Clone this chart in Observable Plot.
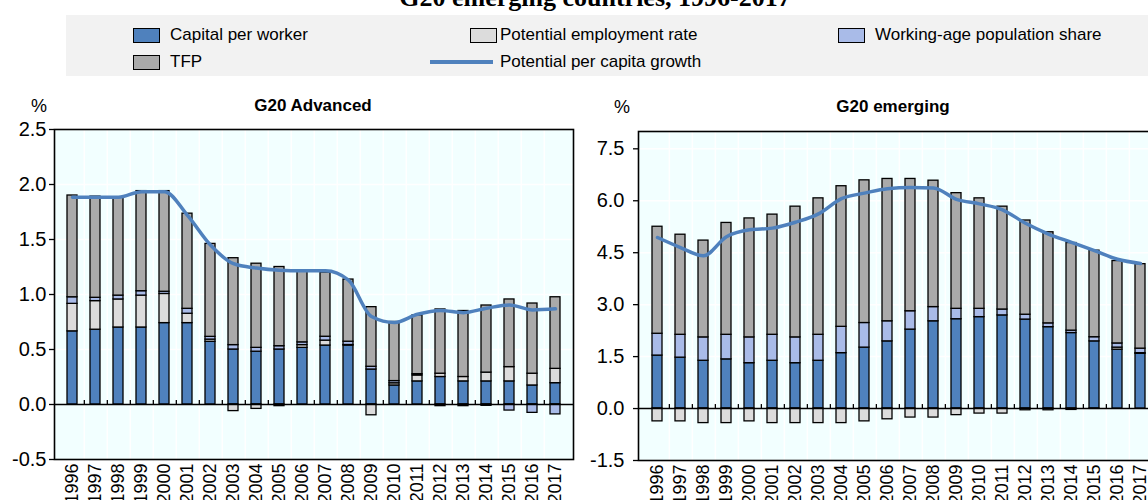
<!DOCTYPE html>
<html>
<head>
<meta charset="utf-8">
<script src="https://cdn.jsdelivr.net/npm/d3@7"></script>
<script src="https://cdn.jsdelivr.net/npm/@observablehq/plot@0.6"></script>
<style>
  html, body { margin: 0; padding: 0; background: white; overflow: hidden; }
  #root { position: relative; width: 1148px; height: 500px; overflow: hidden; font-family: "Liberation Sans", Arial, sans-serif; color: black; }
  .abs { position: absolute; white-space: nowrap; }
  .sw { position: absolute; width: 25px; height: 13px; border: 1px solid black; }
  .lt { position: absolute; font-size: 17px; line-height: 20px; white-space: nowrap; }
  #left svg, #right svg { max-width: none !important; display: block; }
</style>
</head>
<body>
<div id="root">
  <div class="abs" style="left:0;width:1190px;top:-15px;text-align:center;font-family:'Liberation Serif','Times New Roman',serif;font-weight:bold;font-size:26px;line-height:26px;">G20 emerging countries, 1996-2017</div>
  <div id="legend" class="abs" style="left:66px;top:15px;width:1100px;height:61px;background:#f2f2f2;"></div>
  <div id="left" class="abs" style="left:0;top:90px;width:590px;height:410px;"></div>
  <div id="right" class="abs" style="left:590px;top:90px;width:580px;height:410px;"></div>
  <div class="abs" style="left:31px;top:96px;font-size:18px;line-height:20px;">%</div>
  <div class="abs" style="left:614px;top:97px;font-size:18px;line-height:20px;">%</div>
  <div class="abs" style="left:213px;width:200px;top:96px;text-align:center;font-weight:bold;font-size:17px;line-height:20px;">G20 Advanced</div>
  <div class="abs" style="left:793px;width:200px;top:97px;text-align:center;font-weight:bold;font-size:17px;line-height:20px;">G20 emerging</div>
</div>
<script>
// ---------- data ----------
const years = ["1996","1997","1998","1999","2000","2001","2002","2003","2004","2005","2006",
               "2007","2008","2009","2010","2011","2012","2013","2014","2015","2016","2017"];

const components = ["Capital per worker", "Potential employment rate", "Working-age population share", "TFP"];
const componentColors = ["#4f81bd", "#dcdcdc", "#a9bbe8", "#aaaaaa"];
const lineLabel = "Potential per capita growth";
const lineColor = "#4f81bd";

// G20 Advanced
const advCapital    = [0.665,0.68,0.70,0.70,0.74,0.74,0.57,0.50,0.48,0.50,0.515,0.536,0.536,0.318,0.173,0.21,0.25,0.21,0.21,0.21,0.173,0.194];
const advEmployment = [0.25,0.26,0.255,0.29,0.265,0.085,0.02,-0.06,-0.04,-0.015,0.025,0.045,0.005,-0.098,0.02,0.054,0.03,0.04,0.08,0.13,0.107,0.13];
const advWorkingAge = [0.06,0.03,0.035,0.04,0.02,0.045,0.025,0.04,0.035,0.03,0.025,0.035,0.03,0.025,0.02,0.012,-0.015,-0.015,-0.012,-0.055,-0.076,-0.09];
const advTFP        = [0.925,0.92,0.89,0.91,0.915,0.865,0.845,0.79,0.765,0.72,0.645,0.584,0.565,0.542,0.537,0.534,0.584,0.60,0.61,0.615,0.638,0.651];
const advGrowth     = [1.885,1.885,1.885,1.935,1.935,1.72,1.45,1.28,1.24,1.22,1.215,1.215,1.13,0.80,0.745,0.82,0.855,0.835,0.875,0.905,0.86,0.87];

// G20 emerging
const emeCapital    = [1.53,1.47,1.38,1.42,1.31,1.38,1.31,1.38,1.60,1.76,1.94,2.28,2.52,2.58,2.64,2.69,2.57,2.35,2.18,1.94,1.70,1.58];
const emeEmployment = [-0.37,-0.37,-0.42,-0.42,-0.37,-0.42,-0.42,-0.42,-0.42,-0.37,-0.31,-0.26,-0.26,-0.19,-0.145,-0.145,-0.05,-0.05,-0.04,-0.01,0.06,0.02];
const emeWorkingAge = [0.63,0.66,0.675,0.71,0.745,0.75,0.745,0.75,0.76,0.71,0.58,0.53,0.41,0.30,0.24,0.17,0.14,0.11,0.07,0.12,0.12,0.13];
const emeTFP        = [3.09,2.89,2.795,3.23,3.435,3.47,3.775,3.94,4.06,4.12,4.11,3.82,3.65,3.34,3.19,2.97,2.72,2.63,2.53,2.50,2.38,2.44];
const emeGrowth     = [4.94,4.65,4.41,4.96,5.16,5.21,5.38,5.62,6.06,6.22,6.35,6.38,6.37,6.04,5.91,5.74,5.35,5.04,4.80,4.56,4.31,4.19];

const advTicks = [-0.5,0,0.5,1.0,1.5,2.0,2.5];
const emeTicks = [-1.5,0,1.5,3.0,4.5,6.0,7.5];

// ---------- legend ----------
const legend = document.getElementById("root");
function addSwatch(x, y, color) {
  const d = document.createElement("div"); d.className = "sw";
  d.style.left = x + "px"; d.style.top = y + "px"; d.style.background = color; legend.appendChild(d);
}
function addText(x, y, t) {
  const d = document.createElement("div"); d.className = "lt";
  d.style.left = x + "px"; d.style.top = y + "px"; d.textContent = t; legend.appendChild(d);
}
addSwatch(133, 28, componentColors[0]); addText(170, 25, components[0]);
addSwatch(470, 28, componentColors[1]); addText(500, 25, components[1]);
addSwatch(838, 28, componentColors[2]); addText(875, 25, components[2]);
addSwatch(133, 55, componentColors[3]); addText(170, 52, components[3]);
{ const d = document.createElement("div"); d.className = "abs";
  d.style.cssText = `left:430px;top:60px;width:63px;height:4px;background:${lineColor};`; legend.appendChild(d); }
addText(500, 52, lineLabel);

// ---------- panels ----------
const PI = 0.58, PO = 0.265;
function panel({cap, emp, wa, tfp, growth, domain, ticks, width, height, ml, mr, mt, mb, tickPad}) {
  const series = [cap, emp, wa, tfp];
  const rows = [];
  components.forEach((c, k) => years.forEach((y, i) => rows.push({year: y, component: c, value: series[k][i]})));
  const line = years.map((y, i) => ({year: y, value: growth[i]}));
  const step = (width - ml - mr) / (years.length - PI + 2 * PO);
  const unitPerPx = (domain[1] - domain[0]) / (height - mt - mb);
  return Plot.plot({
    width, height, marginLeft: ml, marginRight: mr, marginTop: mt, marginBottom: mb,
    style: {fontFamily: "'Liberation Sans', Arial, sans-serif", fontSize: "20px", color: "black", background: "transparent", overflow: "visible"},
    x: {type: "band", domain: years, paddingInner: PI, paddingOuter: PO, label: null},
    y: {domain, label: null},
    color: {domain: components, range: componentColors},
    marks: [
      Plot.frame({fill: "#f2ffff", stroke: null}),
      Plot.gridY(ticks, {stroke: "white", strokeOpacity: 1, strokeWidth: 1.5}),
      Plot.ruleX(years.slice(0, -1), {x: d => d, dx: step / 2, stroke: "white", strokeOpacity: 1, strokeWidth: 1.5}),
      Plot.barY(rows, {x: "year", y: "value", fill: "component", stroke: "black", strokeWidth: 1.3}),
      Plot.ruleY([0], {stroke: "black", strokeWidth: 1.5}),
      Plot.ruleX(years.slice(0, -1), {x: d => d, dx: step / 2, y1: 0, y2: 4 * unitPerPx, stroke: "black", strokeWidth: 1.3}),
      Plot.lineY(line, {x: "year", y: "value", stroke: lineColor, strokeWidth: 3.5, curve: "monotone-x"}),
      Plot.frame({stroke: "black", strokeWidth: 1.6}),
      Plot.axisY(ticks, {tickFormat: d => d.toFixed(1), tickSize: 5, tickPadding: tickPad, fontSize: 20, label: null, strokeWidth: 1.3}),
      Plot.axisX({tickRotate: -90, tickSize: 0, tickPadding: 4, fontSize: 18, label: null})
    ]
  });
}

document.getElementById("left").appendChild(panel({
  cap: advCapital, emp: advEmployment, wa: advWorkingAge, tfp: advTFP, growth: advGrowth,
  domain: [-0.5, 2.5], ticks: advTicks, width: 590, height: 410, ml: 54, mr: 17, mt: 39, mb: 41, tickPad: 3
}));
document.getElementById("right").appendChild(panel({
  cap: emeCapital, emp: emeEmployment, wa: emeWorkingAge, tfp: emeTFP, growth: emeGrowth,
  domain: [-1.5, 8.0], ticks: emeTicks, width: 580, height: 410, ml: 48, mr: 11, mt: 41, mb: 40, tickPad: 9
}));
</script>
</body>
</html>
